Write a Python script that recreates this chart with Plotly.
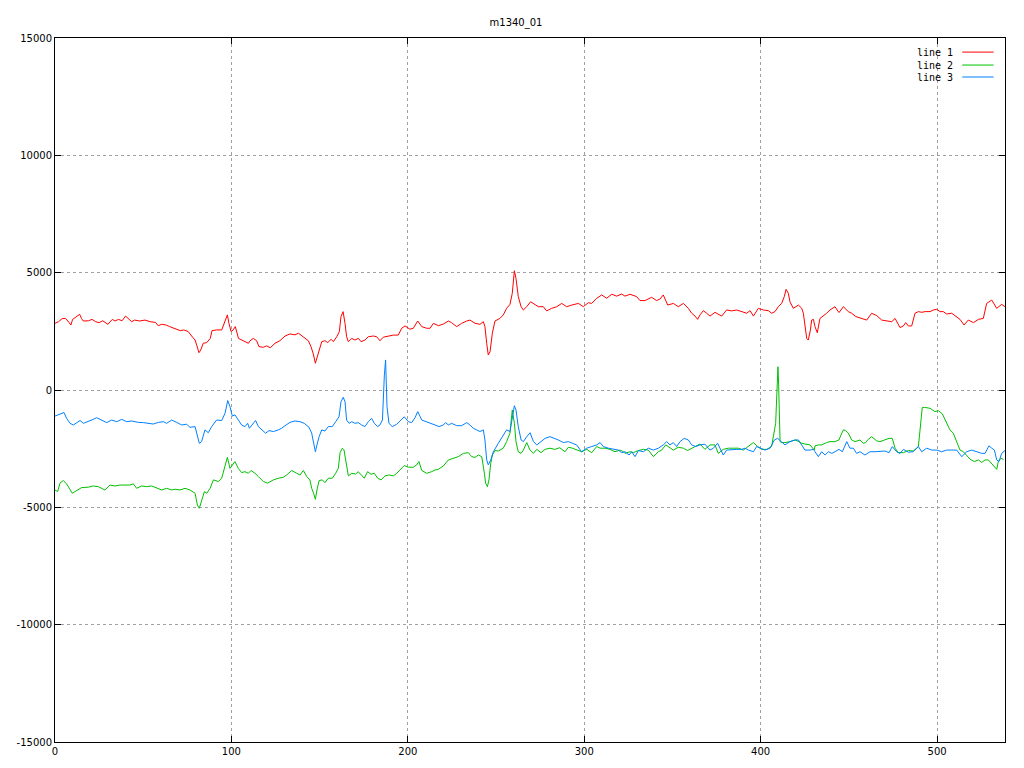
import plotly.graph_objects as go

title_text = "m1340_01"
series_names = ["line 1", "line 2", "line 3"]
series_colors = ["#ff0000", "#00c000", "#0080ff"]

# ---- line 1 (red) ----
x1 = [0, 2, 4, 6, 8, 9, 10, 12, 14, 15, 16, 19, 21, 23, 25, 27, 30, 32.5, 34, 36, 38, 40, 41.5, 43.5, 45, 48, 51, 54, 57, 58.5,
      60.5, 63, 65, 68, 71, 73, 75.5, 78, 79.4, 80.3, 81.6, 82.6, 84, 86, 88, 89, 91.6, 94.5, 96.4, 97.7, 98.6, 99.8, 101, 102.2, 104, 106,
      107.7, 109.6, 110.5, 112.4, 114.3, 115.6, 118, 120, 122, 124.7, 127.5, 130.4, 133.2, 136, 138, 140.8, 143.6, 145.1, 146.4, 147.6,
      148.5, 149.7, 151.2, 153, 154.6, 156.5, 157.8, 159.7, 161.2, 162.1, 163.3, 164.4, 165.3, 166.3, 168.2, 170, 172, 173.5, 175.7,
      177.6, 180.5, 182.3, 184.2, 186.1, 189, 191.8, 194.6, 196.5, 198.4, 201.2, 203.1, 205.6, 207.9, 210.7, 212.6, 214.5,
      217.3, 220.1, 223, 224.8, 227.7, 230.5, 233.4, 235.2, 238.1, 240.9, 242.8, 243.7, 244.7, 245.6, 246.6, 247.9, 249.4, 252.2,
      254.1, 256, 257.9, 259.2, 260.4, 261.3, 262.6, 264.2, 265.5, 267.4, 269.6, 272.1, 274, 276.8, 278.7, 281.5, 284.4, 287.2, 290,
      292.9, 296.7, 299.5, 302.3, 304.2, 307.1, 309.9, 312.7, 315.6, 318.4, 321.2, 323.1,
      325.9, 329.7, 331.6, 334.4, 338.2, 341, 343, 344.8, 347.3, 350.5, 353.3, 356.2, 359, 360.9, 362.8, 364.3, 365.6, 367.5, 369.4,
      371.3, 374.1, 376, 377.9, 380.7, 383.6, 386.4, 389.2, 392.1, 394, 395.9, 398.7, 401.5, 404.4, 406.2, 408.1, 410, 411.9, 413.4,
      414.4, 415.7, 416.6, 418.5, 421.4, 423.3, 424.2, 425.1, 426.1, 427, 428.2, 428.9, 429.9, 430.8,
      432.1, 433.6, 435.5, 437.4, 439.3, 442.1, 444.4, 446.9, 449.7, 451.6, 453.9, 457.3, 460.1, 462.9, 465.8, 468.6, 471.4, 474.3,
      476.2, 479, 480.9, 482.2, 483.7, 485.6, 487.5, 489.4, 491.3, 493.2, 496, 497.9, 499.8, 501.7, 503.5, 505.4, 508.3, 511.1, 513,
      515.3, 517.7, 520.6, 523.4, 526.2, 528.1, 531, 533.8, 536.6, 538.5]
y1 = [2840, 2910, 3040, 3055, 2870, 2770, 3010, 3100, 3225, 3050, 2940, 2950, 3010, 2910, 2870, 2950, 2800, 3010, 2940, 3010, 2950,
      3150, 3050, 2910, 2980, 2940, 2980, 2910, 2880, 2740,
      2800, 2770, 2700, 2630, 2530, 2560, 2490, 2250, 2130, 1920, 1590, 1700, 1990, 2020, 2200, 2530, 2560, 2560, 2910, 3200, 2840,
      2490, 2560, 2700, 2200, 2130,
      2060, 1990, 2090, 2200, 2100, 1850, 1820, 1880, 1800, 1990, 2100, 2300, 2390, 2350, 2420, 2250, 2100, 1850, 1540, 1140,
      1350, 1700, 2060, 2100, 2020, 2160, 2060, 2270, 2490, 3125, 3340, 2840, 2270, 2060, 2200, 2130, 2200, 2060, 2130,
      2270, 2300, 2270, 2100, 2250, 2300, 2340, 2340, 2630, 2730, 2590, 2630, 2940, 2700, 2630, 2630, 2840,
      2740, 2810, 2940, 2870, 2700, 2840, 2940, 2980, 2840, 2800, 2910, 2700, 1990, 1490, 1630, 2420, 2940, 3050,
      3200, 3480, 3650, 4120, 5085, 4760, 3980, 3550, 3410, 3550, 3760, 3620, 3550, 3550, 3370, 3480, 3550, 3690, 3550,
      3620, 3690, 3550, 3720, 3690, 3910, 4050, 3910, 4080, 4000, 4090, 4000,
      4080, 3980, 3810, 3810, 3950, 3810, 3880, 4050, 3620, 3690, 3550, 3690, 3480, 3270, 3150, 3010, 3200, 3380, 3270,
      3150, 3310, 3240, 3150, 3410, 3370, 3410, 3340, 3270, 3380, 3150, 3480, 3410, 3380, 3270, 3340, 3550, 3690, 3980,
      4290, 4120, 3760, 3480, 3620, 3480, 3270, 2770, 2200, 2130, 2560, 2980, 3010, 2700,
      2440, 3050, 3150, 3270, 3410, 3550, 3300, 3550, 3340, 3270, 3130, 3050, 2980, 3270, 3170, 2980, 2940, 2910,
      3050, 2660, 2730, 2870, 2730, 2730, 3270, 3340, 3310, 3340, 3340, 3410, 3440, 3340, 3340, 3240, 3270, 3100, 3010,
      2770, 2980, 2870, 3010, 3050, 3690, 3830, 3480, 3650, 3550]

# ---- line 2 (green) ----
x2 = [0, 1.5, 2.8, 4.7, 6.6, 8.5, 9.8, 11.3, 13.2, 15.1, 18.9, 21.7, 24.6, 28.3, 31.2, 34, 36.8, 39.7, 42.5, 44.4, 46.3, 49.1, 52,
      54.8, 57.6, 60.5, 63.3, 66.1, 68, 70.9, 73.7, 76.5, 79.4, 80.7, 81.8, 83.1, 84.7, 86, 87.9, 89.8, 92.6, 94.5, 96.4, 97.7, 99.2,
      100.5, 102, 103.9, 105.8,
      107.7, 109.6, 111.1, 113.4, 115.3, 118.1, 120.5, 123.8, 126.6, 129.4, 131.3, 134.2, 137, 138.9, 140.8, 142.7, 144.5, 145.5,
      146.6, 147.6, 148.5, 149.7, 151.5, 153, 154.9, 157.2, 159.1, 160.6, 161.6, 162.9, 163.8, 165, 166.3, 168.2, 170.4, 171.9,
      173.8, 175.3, 177.2, 179.1, 181, 182.9, 184.8, 187.1, 189.3, 191.8, 193.7, 195.6, 198, 200.3, 203.1, 205, 206.3, 207.9, 210.7,
      213.5, 215.4, 217.3, 220.1, 223, 225.8, 228.6, 231.5, 234.3, 236.2, 238.1, 240, 241.9, 243.4, 244.1, 245.1, 246, 247, 247.9,
      249.4, 251.3, 254.1, 256, 257.9, 259.2, 260.4, 261.3, 262.6, 264.2, 265.5, 267.4, 269.3, 271.2, 273.1, 275.5, 277.8, 280.6,
      283.3, 286.1, 289.1, 291, 293.3, 295.7, 298.5, 301.4, 304.2, 307.1, 309, 311.8, 314.6, 317.4, 320.3, 322.2,
      323.1, 325.9, 327.8, 330.7, 333.5, 336.3, 339.2, 342, 343.9, 346.2, 348.6, 350.5, 353.3, 356.2, 358.6, 360.9, 362.8, 365.6,
      368.4, 371.3, 374.1, 376, 378.8, 381.7, 384.5, 387.4, 390.2, 393, 395.9, 398.3, 400.6, 403.4, 406.2, 408.5, 409.3, 409.8,
      410.2, 410.6, 411, 411.9, 413.8, 416.6, 419.5, 421.7, 423.3, 425.1, 428, 430.4,
      430.8, 432.7, 434.6, 437.4, 439.3, 442.1, 444.4, 445.5, 446.9, 448.2, 449.7, 451.6, 453.5, 456.3, 458.2, 459.5, 461, 462.9,
      465.8, 467.6, 470.5, 472.8, 474.6, 476.2, 478, 480.9, 483.7, 486.5, 489.4, 490.9, 491.6, 492.8, 496, 498.8, 500.7, 503,
      505.4, 507.3, 509.2, 511.1, 513, 514.9, 516.8, 518.7, 521.1, 523.4, 525.3, 527.2, 529.1, 531.9, 533.8, 534.7, 536.2,
      537.6, 538.5]
y2 = [-4260, -4330, -3970, -3860, -4000, -4260, -4400, -4330, -4230, -4160, -4140, -4090, -4120, -4260, -4050, -4090, -4050, -4050,
      -4050, -4000, -4190, -4090, -4120, -4090, -4190, -4260, -4190, -4260, -4230, -4260, -4190, -4260, -4400, -4900, -5040, -4690,
      -4330, -4400, -4190, -3830, -3900, -3760, -3260, -2870, -3340, -3190, -3050, -3340, -3520,
      -3480, -3550, -3430, -3550, -3690, -3900, -3970, -3830, -3760, -3720, -3620, -3430, -3550, -3620, -3430, -3690, -3830, -4190,
      -4400, -4660, -4260, -3860, -3830, -3950, -3760, -3760, -3550, -3340, -2670, -2480, -2550, -3120, -3660, -3550, -3580, -3480,
      -3620, -3760, -3480, -3590, -3550, -3760, -3830, -3660, -3620, -3660, -3550, -3410, -3220, -3290, -3290, -3190, -3050, -3430,
      -3550, -3480, -3410, -3380, -3240, -2980, -2910, -2840, -2700, -2670, -2840, -2870, -2770, -2840, -3550, -3970, -4120, -3830,
      -3120, -2770, -2580, -2600, -2480, -2200, -1840, -850, -1420, -2200, -2630, -2700, -2560, -2240, -2560, -2700, -2530, -2670,
      -2530, -2480, -2530, -2460, -2630, -2440, -2480, -2560, -2630, -2530, -2670, -2410, -2480, -2480, -2530, -2630, -2560,
      -2630, -2700, -2630, -2670, -2580, -2530, -2560, -2840, -2630, -2560, -2340, -2480, -2560, -2440, -2480, -2580, -2480, -2410,
      -2300, -2530, -2340, -2340, -2700, -2530, -2480, -2480, -2480, -2560, -2410, -2240, -2410, -2530, -2530, -2410, -1420, 210,
      990, 210, -1420, -2200, -2240, -2240, -2200, -2130, -2200, -2270, -2300, -2340,
      -2560, -2380, -2340, -2340, -2240, -2200, -2200, -2130, -1920, -1700, -1730, -1840, -2130, -2200, -2130, -2270, -2240, -2100,
      -1990, -2170, -2200, -2130, -2060, -2060, -2480, -2670, -2670, -2580, -2600, -2410, -1280, -750, -740, -780, -920, -880,
      -1020, -1420, -1700, -1840, -2200, -2560, -2630, -2770, -2950, -3050, -2980, -3090, -2980, -2980, -3240, -3380, -3050,
      -2910, -2960]

# ---- line 3 (blue) ----
x3 = [0, 1.9, 3.8, 5.1, 6.6, 8.5, 10.4, 12.3, 14.2, 16.1, 18.9, 21.7, 23.6, 26.5, 29.3, 32.1, 35, 37.8, 40.6, 43.5, 47.2, 50.1,
      52.9, 55.7, 58.6, 61.4, 63.3, 66.1, 69, 71.8, 74.6, 76.5, 79.4, 80.7, 81.8, 83.1, 85, 86.9, 88.8, 91.6, 94.5, 96.4, 97.9, 99.2,
      100.5, 102, 103.9, 105.8,
      107.7, 109.2, 110.2, 111.9, 113.7, 115.3, 117.1, 119.4, 121.3, 123.8, 126.6, 128.5, 130.4, 133.2, 136, 138.9, 141.3, 144,
      145.5, 146.6, 147.6, 148.5, 149.7, 151.2, 153, 154.9, 157.2, 159.1, 161, 162.1, 163.4, 164.4, 165.3, 166.7, 168.2, 170, 171.9,
      173.8, 175.7, 177.6, 179.5, 181, 182.9, 184.2, 185.6, 186.7, 187.4, 188.2, 189.3, 191.2, 193.7, 195.6, 198, 200.3, 202.2,
      204.1, 205.6, 207.9, 210.7, 212.6, 214.5,
      215.4, 217.7, 220.1, 221.4, 223, 224.8, 227.7, 230.5, 233.4, 235.2, 237.1, 239, 240.9, 242.8, 243.7, 244.7, 245.6, 247, 248.5,
      251.3, 254.1, 256, 257.9, 259.2, 260.4, 261.3, 262.6, 264.2, 265.5, 267.4, 269.3, 271.2, 273.1, 275.5, 277.8, 280.6, 283.1,
      285.3, 288.2, 291, 293.3, 295.7, 298.5, 301.4, 304.2, 307.1, 309, 310.8, 313.7, 316.5, 319.3, 321.2,
      323.1, 325.4, 326.9, 328.8, 330.7, 333.5, 336.3, 339.2, 342, 344.8, 346.7, 348.6, 350.5, 352.4, 354.3, 356.7, 359, 360.9,
      363.2, 365.6, 368.4, 371.3, 373.2, 375.6, 377.9, 378.8, 380.7, 383.6, 386.4, 389.2, 391.1, 393, 395.9, 397.7, 400.2, 402.5,
      405.3, 407.8, 409.6, 411.5, 413.8, 416.6, 419.5, 421.4, 423.3, 425.1, 428, 429.9,
      430.8, 432.7, 434.6, 436.5, 438.4, 440.3, 442.1, 444.4, 446.3, 448.8, 450.6, 452.5, 454.4, 456.3, 459.1, 462, 464.8, 467.6,
      470.5, 472.8, 474.6, 477.1, 479, 480.9, 483.7, 486.5, 489.4, 491.3, 494.1, 497, 499.8, 502.6, 505.4, 508.3, 511.1, 514,
      516.8, 519.6, 522.4, 525.3, 527.2, 529.4, 531, 532.5, 533.8, 535.1, 536.6, 538.5]
y3 = [-1110, -1060, -1020, -960, -1210, -1420, -1490, -1390, -1300, -1420, -1350, -1250, -1180, -1280, -1390, -1280, -1350, -1250,
      -1350, -1320, -1380, -1390, -1420, -1450, -1380, -1350, -1420, -1280, -1380, -1490, -1460, -1590, -1560, -1920, -2270, -2200,
      -1700, -1820, -1560, -1280, -1300, -990, -450, -710, -1110, -1060, -1280, -1490,
      -1560, -1420, -1630, -1450, -1300, -1560, -1700, -1840, -1730, -1770, -1700, -1630, -1520, -1380, -1320, -1350, -1420, -1590,
      -1840, -2270, -2630, -2340, -1990, -1700, -1750, -1560, -1560, -1350, -1140, -500, -310, -500, -1280, -1420, -1350, -1420,
      -1390, -1490, -1560, -1350, -1210, -1420, -1560, -1490, -1280, 640, 1280, -710, -1420, -1560, -1460, -1320, -1140, -1350,
      -1390, -1180, -920, -1280, -1350, -1420, -1460,
      -1490, -1560, -1490, -1390, -1490, -1420, -1520, -1520, -1390, -1490, -1630, -1700, -1770, -1700, -2130, -2980, -3190, -2980,
      -2630, -2270, -1920, -1700, -1770, -1140, -670, -850, -1560, -2130, -2200, -1990, -1820, -2200, -2340, -2200, -2060, -1990,
      -2060, -2130, -2240, -2200, -2270, -2340, -2630, -2480, -2410, -2340, -2240, -2410, -2480, -2530, -2560, -2670,
      -2630, -2770, -2630, -2840, -2580, -2630, -2480, -2560, -2480, -2340, -2200, -2340, -2240, -2410, -2200, -2060, -2130, -2340,
      -2410, -2340, -2310, -2560, -2480, -2270, -2630, -2770, -2560, -2530, -2530, -2530, -2480, -2560, -2630, -2410, -2480, -2560,
      -2480, -2130, -2060, -2200, -2340, -2200, -2130, -2130, -2340, -2560, -2560, -2530,
      -2630, -2840, -2630, -2770, -2630, -2700, -2630, -2530, -2630, -2200, -2480, -2480, -2700, -2630, -2770, -2630, -2630, -2630,
      -2600, -2670, -2410, -2630, -2700, -2530, -2650, -2630, -2410, -2630, -2480, -2560, -2560, -2630, -2560, -2560, -2560, -2840,
      -2630, -2560, -2630, -2700, -2700, -2380, -2480, -2560, -2980, -3050, -2700, -2580]

x_ticks = [0, 100, 200, 300, 400, 500]
y_ticks = [-15000, -10000, -5000, 0, 5000, 10000, 15000]
x_range = [0, 538.5]
y_range = [-15000, 15000]

fig = go.Figure()
for xs, ys, name, color in zip([x1, x2, x3], [y1, y2, y3], series_names, series_colors):
    fig.add_trace(go.Scatter(x=xs, y=ys, mode="lines", name=name, showlegend=False,
                             line=dict(color=color, width=1)))

font_family = "DejaVu Sans, Liberation Sans, sans-serif"
axis_common = dict(
    showline=True, linecolor="black", linewidth=1, mirror="ticks",
    ticks="inside", ticklen=6, tickcolor="black", tickwidth=1,
    showgrid=True, gridcolor="#a0a0a0", griddash="dot", gridwidth=1,
    zeroline=False, automargin=False,
    tickfont=dict(family=font_family, size=10, color="black"),
)
fig.update_xaxes(range=x_range, tickvals=x_ticks, ticktext=[str(v) for v in x_ticks], **axis_common)
fig.update_yaxes(range=y_range, tickvals=y_ticks, ticktext=[str(v) for v in y_ticks], **axis_common)

# gnuplot-style key: text on the left, sample line on the right (top-right corner)
key_rows_y = [0.980, 0.9616, 0.9446]
for name, color, ky in zip(series_names, series_colors, key_rows_y):
    fig.add_annotation(xref="paper", yref="paper", x=0.947, y=ky, text=name, showarrow=False,
                       xanchor="right", yanchor="middle",
                       font=dict(family="DejaVu Sans Mono, monospace", size=10, color="black"))
    fig.add_shape(type="line", xref="paper", yref="paper", x0=0.955, x1=0.988, y0=ky, y1=ky,
                  line=dict(color=color, width=1))

fig.update_layout(
    width=1016, height=760,
    margin=dict(l=47, r=19, t=30, b=26),
    paper_bgcolor="white", plot_bgcolor="white",
    title=dict(text=title_text, x=0.5, xanchor="center", y=0.985, yanchor="top",
               font=dict(family=font_family, size=10, color="black")),
    showlegend=False,
)

fig.write_html("out.html")
